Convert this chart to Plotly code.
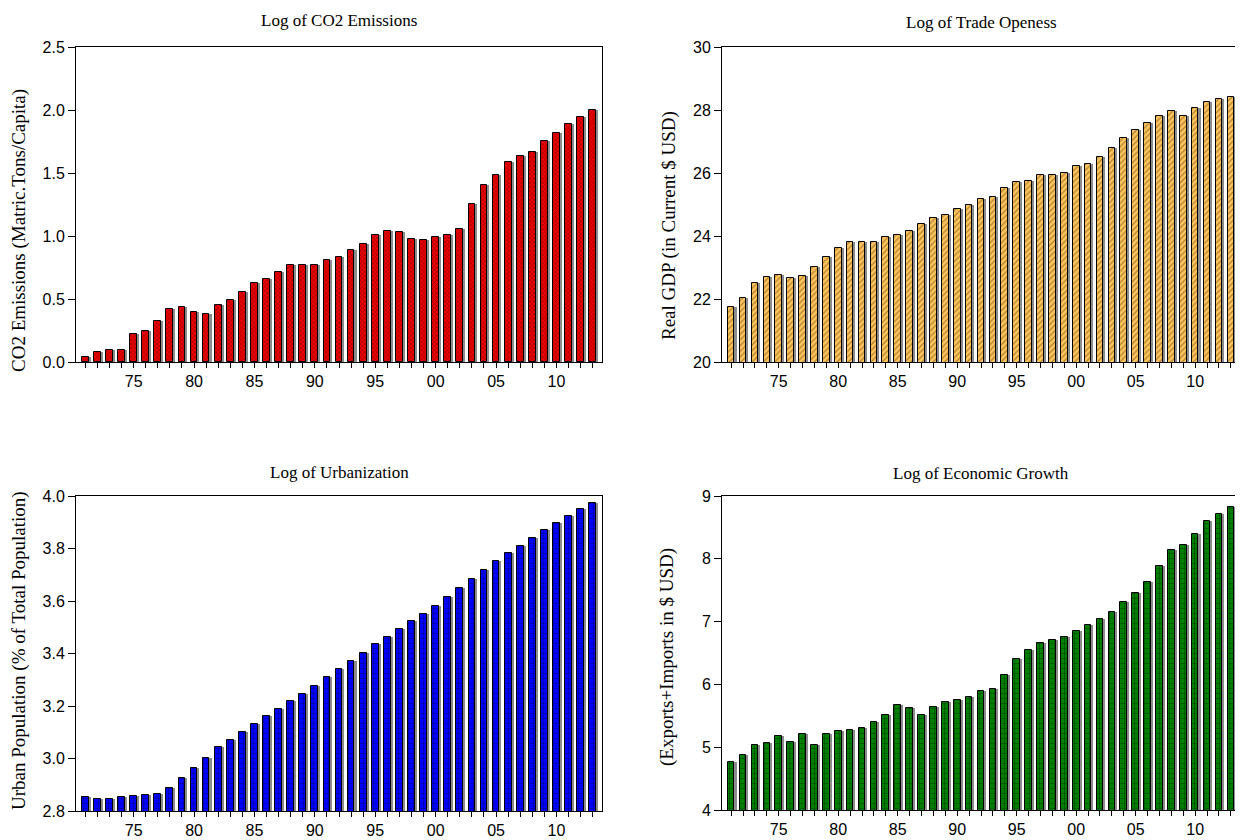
import plotly.graph_objects as go

years = list(range(1971, 2014))

co2 = [0.04, 0.08, 0.093, 0.093, 0.222, 0.249, 0.325, 0.42, 0.437, 0.40,
       0.378, 0.45, 0.49, 0.558, 0.627, 0.661, 0.712, 0.767, 0.767, 0.772,
       0.81, 0.836, 0.89, 0.94, 1.01, 1.042, 1.034, 0.98, 0.97, 0.99,
       1.005, 1.055, 1.254, 1.405, 1.487, 1.587, 1.635, 1.667, 1.751, 1.82,
       1.889, 1.944, 2.0]

trade = [21.75, 22.02, 22.5, 22.69, 22.76, 22.66, 22.73, 23.03, 23.34, 23.62,
         23.81, 23.82, 23.82, 23.97, 24.04, 24.16, 24.39, 24.58, 24.67, 24.85,
         24.99, 25.17, 25.24, 25.52, 25.72, 25.74, 25.93, 25.93, 26.0, 26.23,
         26.29, 26.51, 26.80, 27.11, 27.35, 27.60, 27.82, 27.98, 27.82, 28.07,
         28.26, 28.36, 28.42]

urban = [2.852, 2.844, 2.844, 2.852, 2.856, 2.86, 2.865, 2.886, 2.924, 2.963,
         3.002, 3.043, 3.072, 3.10, 3.13, 3.161, 3.189, 3.219, 3.246, 3.276,
         3.309, 3.341, 3.371, 3.402, 3.435, 3.464, 3.493, 3.524, 3.552, 3.581,
         3.615, 3.65, 3.684, 3.718, 3.751, 3.782, 3.811, 3.839, 3.869, 3.897,
         3.922, 3.949, 3.973]

growth = [4.768, 4.869, 5.043, 5.065, 5.171, 5.086, 5.213, 5.043, 5.208, 5.266,
          5.271, 5.308, 5.404, 5.515, 5.679, 5.631, 5.515, 5.642, 5.721, 5.753,
          5.796, 5.896, 5.928, 6.150, 6.405, 6.548, 6.654, 6.707, 6.760, 6.850,
          6.950, 7.035, 7.146, 7.305, 7.453, 7.628, 7.882, 8.142, 8.227, 8.391,
          8.603, 8.709, 8.820]

tick_labels = [f"{y % 100:02d}" if y % 5 == 0 else "" for y in years]

titles = ["Log of CO2 Emissions", "Log of Trade Openess",
          "Log of Urbanization", "Log of Economic Growth"]
ytitles = ["CO2 Emissions (Matric.Tons/Capita)", "Real GDP (in Current $ USD)",
           "Urban Population (% of Total Population)", "(Exports+Imports in $ USD)"]

W, H = 1243, 840
OFF = 8  # page body margin offset
# pixel boxes in target picture: (left, right, top, bottom)
boxes = [(76, 602, 47, 362), (722, 1240, 47, 362),
         (76, 602, 496, 811), (722, 1240, 496, 810)]
title_y = [21, 22, 472, 473]
ytitle_x = [19, 669, 19, 667]
ytitle_y = [231, 226, 651, 657]
yranges = [(0, 2.5), (20, 30), (2.8, 4.0), (4, 9)]
ytickvals = [[0, 0.5, 1.0, 1.5, 2.0, 2.5], [20, 22, 24, 26, 28, 30],
             [2.8, 3.0, 3.2, 3.4, 3.6, 3.8, 4.0], [4, 5, 6, 7, 8, 9]]
yformats = [".1f", "d", ".1f", "d"]
colors = ["#F00000", "#FFC45C", "#0000FF", "#008000"]
fgs = ["#500000", "#5a3c08", "#000000", "#000000"]
shapes = ["x", "/", "+", "+"]
psize = [3, 4, 5, 5]
psol = [0.45, 0.3, 0.2, 0.2]
series = [co2, trade, urban, growth]


def fx(px):
    return (px - OFF) / W


def fy(py):
    return 1 - (py - OFF) / H


fig = go.Figure()
bw = 0.56
for i in range(4):
    ax = "" if i == 0 else str(i + 1)
    xa, ya = "x" + ax, "y" + ax
    # drop shadow
    fig.add_trace(go.Bar(x=years, y=series[i], xaxis=xa, yaxis=ya,
                         width=bw, offset=-bw / 2 + 0.17,
                         marker=dict(color="#8c8c8c", line=dict(width=0)),
                         showlegend=False, hoverinfo="skip"))
    fig.add_trace(go.Bar(x=years, y=series[i], xaxis=xa, yaxis=ya,
                         width=bw, offset=-bw / 2,
                         marker=dict(color=colors[i],
                                     line=dict(color="black", width=1),
                                     pattern=dict(shape=shapes[i], fgcolor=fgs[i],
                                                  bgcolor=colors[i], size=psize[i],
                                                  solidity=psol[i])),
                         showlegend=False, name=titles[i]))
    l, r, t, b = boxes[i]
    common = dict(ticks="outside", tickwidth=1, tickcolor="black",
                  showline=True, linecolor="black", linewidth=1, mirror=True,
                  showgrid=False, zeroline=False, automargin=False,
                  tickfont=dict(family="Liberation Sans, Arial", size=16, color="black"))
    fig.update_layout(**{
        "xaxis" + ax: dict(domain=[fx(l), fx(r)], range=[1970.23, 2013.77],
                           anchor=ya, tickvals=years, ticktext=tick_labels,
                           ticklen=5, **common),
        "yaxis" + ax: dict(domain=[fy(b), fy(t)], range=list(yranges[i]),
                           anchor=xa, tickvals=ytickvals[i], tickformat=yformats[i],
                           ticklen=7, **common),
    })
    fig.add_annotation(text=titles[i], xref="paper", yref="paper",
                       x=fx((l + r) / 2), y=fy(title_y[i]),
                       xanchor="center", yanchor="middle", showarrow=False,
                       font=dict(family="Liberation Serif, Times New Roman", size=17, color="black"))
    fig.add_annotation(text=ytitles[i], xref="paper", yref="paper",
                       x=fx(ytitle_x[i]), y=fy(ytitle_y[i]), textangle=-90,
                       xanchor="center", yanchor="middle", showarrow=False,
                       font=dict(family="Liberation Serif, Times New Roman", size=19, color="black"))

fig.update_layout(width=W, height=H, barmode="overlay",
                  margin=dict(l=0, r=0, t=0, b=0, autoexpand=False),
                  paper_bgcolor="white", plot_bgcolor="white", bargap=0)

fig.write_html("out.html")
